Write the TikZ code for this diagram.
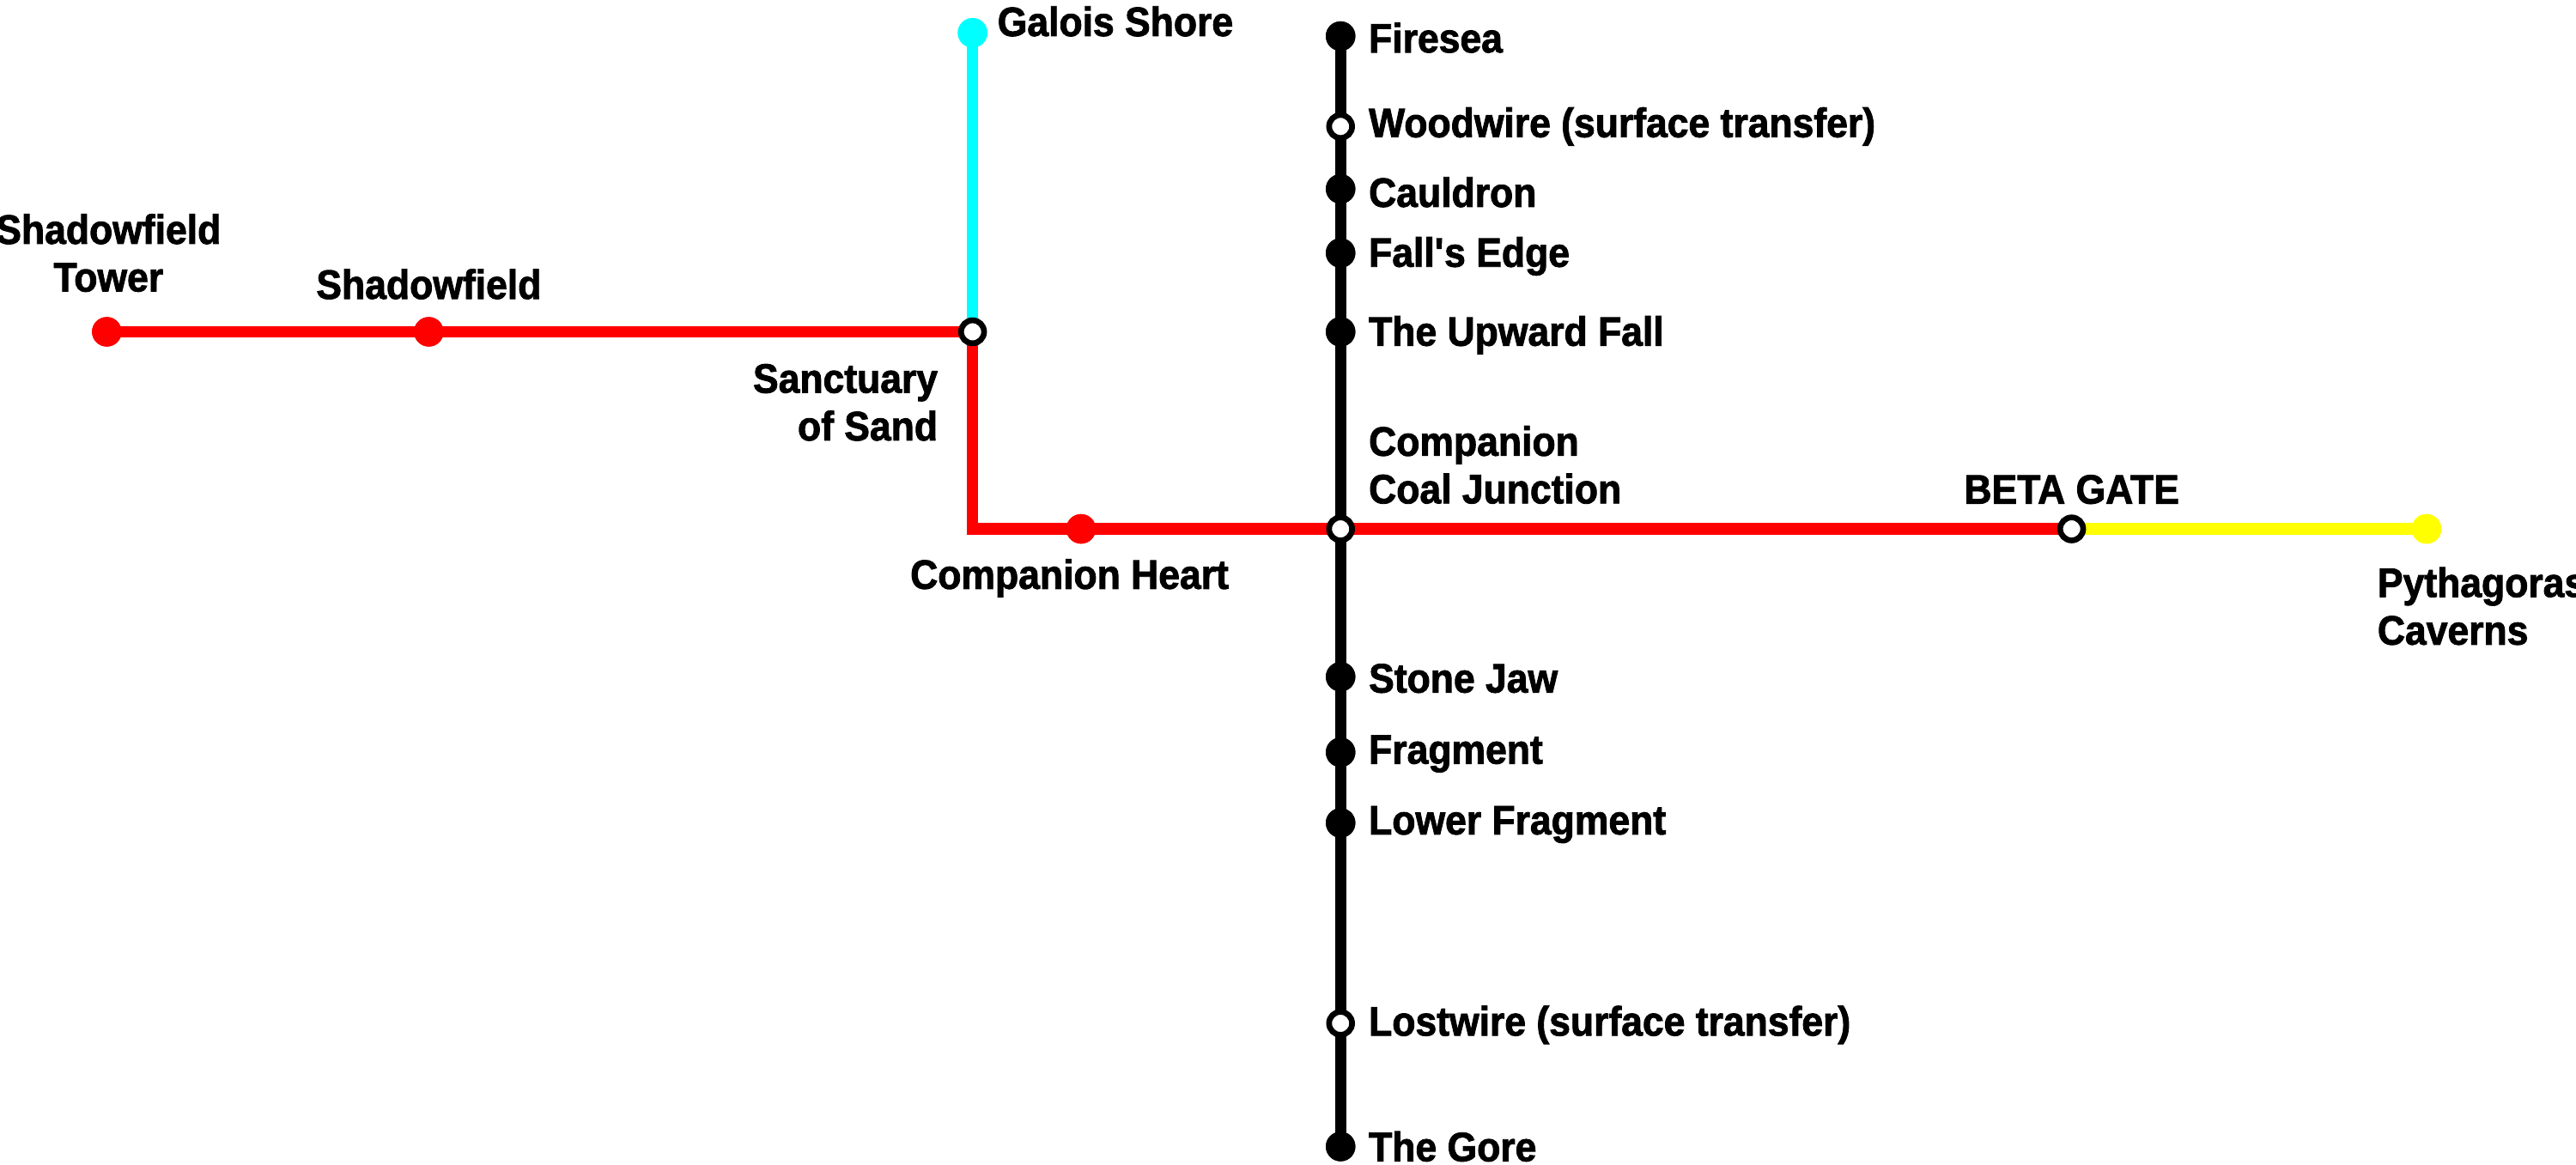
\documentclass[tikz,border=0pt]{standalone}
\usepackage{fontspec}
\setmainfont{Liberation Sans}[FakeStretch=0.93,FakeBold=1.8]
\definecolor{cy}{RGB}{0,255,255}
\definecolor{yl}{RGB}{255,255,0}
\definecolor{rd}{RGB}{255,0,0}
\begin{document}
\begin{tikzpicture}[x=1pt,y=-1pt,
  lbl/.style={font=\bfseries\fontsize{25}{27}\selectfont,inner sep=0pt},
  st/.style={circle,inner sep=0pt,minimum size=18pt,fill=#1},
  ic/.style={circle,inner sep=0pt,minimum size=14pt,fill=white,draw=black,line width=3.5pt},
  ln/.style={line width=7pt,draw=#1}]
\useasboundingbox (0,0) rectangle (1568,709);
\coordinate (corner) at (592,322);
\node[st=rd] (sft) at (65,202) {};
\node[st=rd] (sf) at (261,202) {};
\coordinate (sanc) at (592,202);
\node[st=cy] (gal) at (592,20) {};
\node[st=rd] (ch) at (658,322) {};
\coordinate (jn) at (816,322);
\coordinate (beta) at (1261,322);
\node[st=yl] (pyt) at (1477,322) {};
\node[st=black] (fire) at (816,22) {};
\coordinate (wood) at (816,77);
\node[st=black] (caul) at (816,115) {};
\node[st=black] (fall) at (816,154) {};
\node[st=black] (up) at (816,202) {};
\node[st=black] (sj) at (816,412) {};
\node[st=black] (fr) at (816,458) {};
\node[st=black] (lf) at (816,501) {};
\coordinate (lost) at (816,623);
\node[st=black] (gore) at (816,698) {};
\draw[ln=cy] (sanc) -- (gal.center);
\draw[ln=yl] (beta) -- (pyt.center);
\draw[ln=rd] (sft.center) -- (sanc) -- (corner) -- (beta);
\draw[ln=black] (fire.center) -- (gore.center);
\node[st=rd] at (sft) {}; \node[st=rd] at (sf) {}; \node[st=rd] at (ch) {};
\node[st=cy] at (gal) {}; \node[st=yl] at (pyt) {};
\foreach \n in {fire,caul,fall,up,sj,fr,lf,gore} \node[st=black] at (\n) {};
\foreach \n in {sanc,jn,beta,wood,lost} \node[ic] at (\n) {};
\node[lbl,anchor=west] at (833,23) {Firesea};
\node[lbl,anchor=west] at (833,77) {Woodwire (surface transfer)};
\node[lbl,anchor=west] at (833,117) {Cauldron};
\node[lbl,anchor=west] at (833,156) {Fall\textquotesingle s Edge};
\node[lbl,anchor=west] at (833,204) {The Upward Fall};
\node[lbl,anchor=west] at (833,413) {Stone Jaw};
\node[lbl,anchor=west] at (833,459) {Fragment};
\node[lbl,anchor=west] at (833,502) {Lower Fragment};
\node[lbl,anchor=west] at (833,624) {Lostwire (surface transfer)};
\node[lbl,anchor=west] at (833,698) {The Gore};
\node[lbl,anchor=west] at (607,13) {Galois Shore};
\node[lbl,align=center] at (66,154) {Shadowfield\\[2pt]Tower};
\node[lbl] at (261,173) {Shadowfield};
\node[lbl,align=right,anchor=east] at (571,245) {Sanctuary\\[2pt]of Sand};
\node[lbl,align=left,anchor=west] at (833,283) {Companion\\[2pt]Coal Junction};
\node[lbl] at (651,352) {Companion Heart};
\node[lbl] at (1261,298) {BETA GATE};
\node[lbl,align=left,anchor=west] at (1447,369) {Pythagoras\\[2pt]Caverns};
\end{tikzpicture}
\end{document}
